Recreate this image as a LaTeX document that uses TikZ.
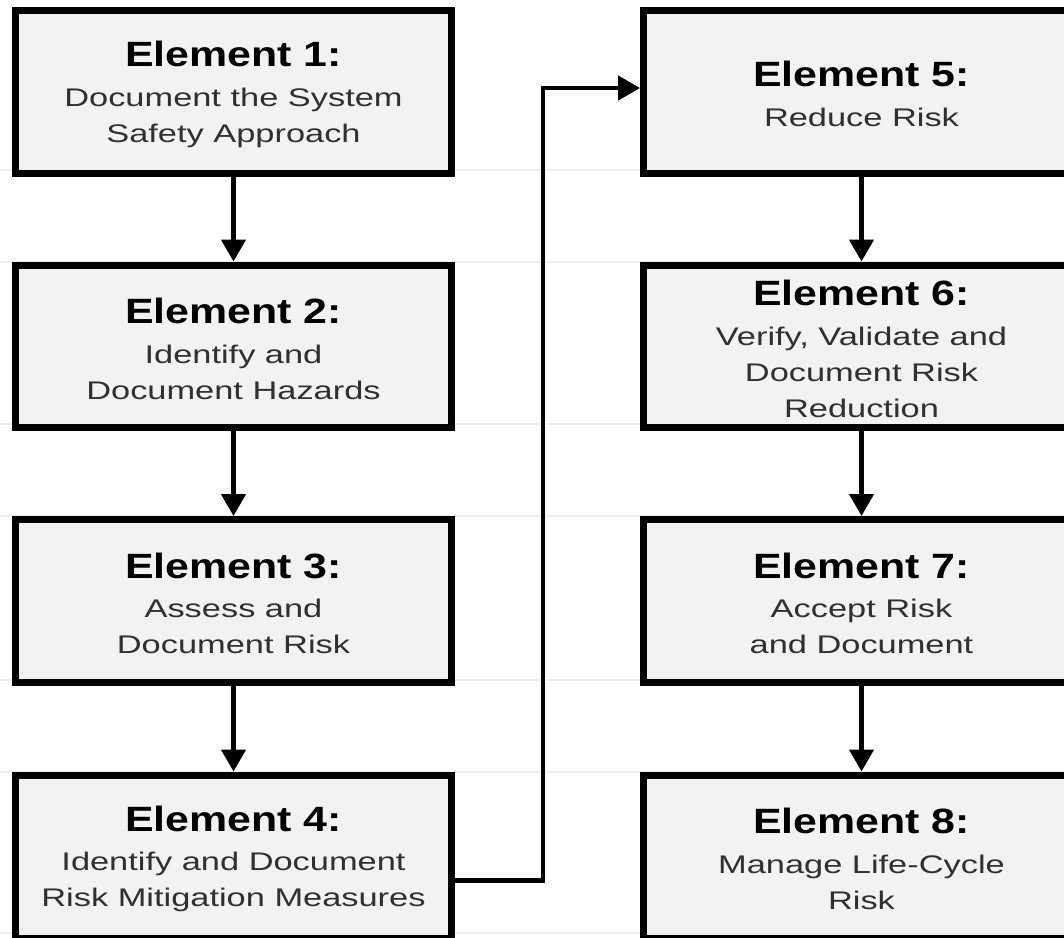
\documentclass[tikz,border=0pt]{standalone}
\usepackage{fontspec}
\usepackage{graphicx}
\setmainfont{Liberation Sans}
\usetikzlibrary{arrows.meta,calc}
\definecolor{boxfill}{HTML}{F2F2F2}
\definecolor{bodytext}{HTML}{303030}
\definecolor{gridgray}{HTML}{EEEEEE}
\newcommand{\elemhead}[1]{\rule{0pt}{17pt}\scalebox{1.22}[1]{\fontsize{20}{21}\selectfont\bfseries\color{black}Element #1:}\\[2.2pt]}
\newcommand{\bl}[1]{\scalebox{1.35}[1]{#1}}
\tikzset{
  elembox/.style={draw=black, line width=0.14cm, fill=boxfill, rectangle,
    minimum width=8.72cm, minimum height=3.26cm, inner sep=0pt,
    align=center, text=bodytext, font=\fontsize{14.5}{20.4}\selectfont},
  conn/.style={draw=black, line width=0.09cm, -{Triangle[width=0.48cm,length=0.44cm]}},
  gridline/.style={draw=gridgray, line width=0.03cm}
}
\begin{document}
\begin{tikzpicture}[x=0.02cm,y=-0.02cm]
\useasboundingbox[fill=white] (0,0) rectangle (1064,937);
\foreach \yy in {170,262,424,516,680,772,933} {
  \draw[gridline] (0,\yy) -- (1064,\yy);
}
\node[elembox] (e1) at (233.5,92) {\elemhead{1}\bl{Document the System}\\\bl{Safety Approach}};
\node[elembox] (e2) at (233.5,346.5) {\elemhead{2}\bl{Identify and}\\\bl{Document Hazards}};
\node[elembox] (e3) at (233.5,601) {\elemhead{3}\bl{Assess and}\\\bl{Document Risk}};
\node[elembox] (e4) at (233.5,856.5) {\elemhead{4}\bl{Identify and Document}\\\bl{Risk Mitigation Measures}};
\node[elembox] (e5) at (861.5,92) {\elemhead{5}\bl{Reduce Risk}};
\node[elembox] (e6) at (861.5,346.5) {\elemhead{6}\bl{Verify, Validate and}\\\bl{Document Risk}\\\bl{Reduction}};
\node[elembox] (e7) at (861.5,601) {\elemhead{7}\bl{Accept Risk}\\\bl{and Document}};
\node[elembox] (e8) at (861.5,856.5) {\elemhead{8}\bl{Manage Life-Cycle}\\\bl{Risk}};
\draw[conn] (e1.south) -- (e2.north);
\draw[conn] (e2.south) -- (e3.north);
\draw[conn] (e3.south) -- (e4.north);
\draw[conn] (e5.south) -- (e6.north);
\draw[conn] (e6.south) -- (e7.north);
\draw[conn] (e7.south) -- (e8.north);
\coordinate (e4out) at ($(e4.east)+(0,24)$);
\coordinate (bend) at (543,88);
\draw[conn] (e4out) -| (bend) -- (e5.west |- bend);
\end{tikzpicture}
\end{document}
